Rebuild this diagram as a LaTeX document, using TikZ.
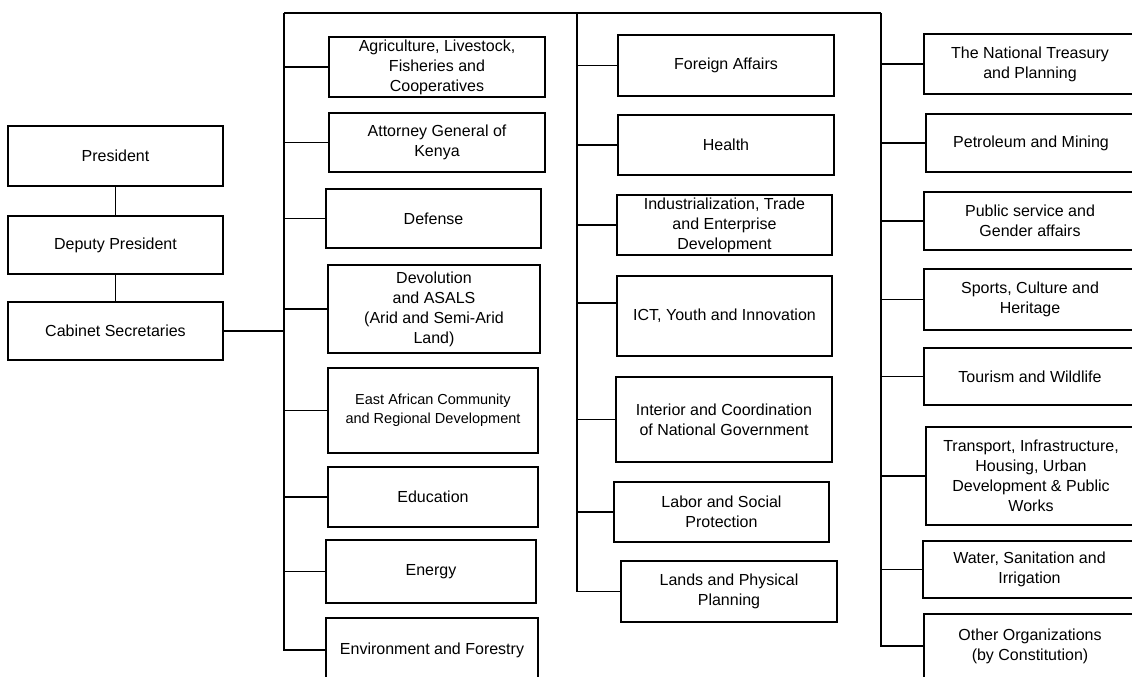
\documentclass[tikz,border=0pt]{standalone}
\usepackage{fontspec}
\setmainfont{Liberation Sans}

\begin{document}
\begin{tikzpicture}[x=1pt,y=-1pt,line width=1.5pt,
        box/.style={draw,align=center,inner sep=2pt,
          font=\fontsize{16}{20}\selectfont},
        small/.style={font=\fontsize{14.5}{19}\selectfont}]
        \clip (0,0) rectangle (1132,677);
        % head of government
        \node[box,minimum width=215,minimum height=60] at (115.5,156) (pres) {President};
        \node[box,minimum width=215,minimum height=58] at (115.5,245) (dep)  {Deputy President};
        \node[box,minimum width=215,minimum height=58] at (115.5,331) (cab)  {Cabinet Secretaries};

        % ministries, first column
        \node[box,minimum width=216,minimum height=60] at (437,67)    (agri) {Agriculture, Livestock,\\Fisheries and\\Cooperatives};
        \node[box,minimum width=216,minimum height=59] at (437,142.5) (atty) {Attorney General of\\Kenya};
        \node[box,minimum width=215,minimum height=59] at (433.5,218.5) (def) {Defense};
        \node[box,minimum width=212,minimum height=88] at (434,309)   (devo) {Devolution\\and ASALS\\(Arid and Semi-Arid\\Land)};
        \node[box,small,minimum width=210,minimum height=85] at (433,410.5) (eac) {East African Community\\and Regional Development};
        \node[box,minimum width=210,minimum height=60] at (433,497)   (edu)  {Education};
        \node[box,minimum width=210,minimum height=63] at (431,571.5) (ener) {Energy};
        \node[box,minimum width=212,minimum height=64] at (432,650)   (env)  {Environment and Forestry};

        % second column
        \node[box,minimum width=216,minimum height=61] at (726,65.5)  (fore) {Foreign Affairs};
        \node[box,minimum width=216,minimum height=60] at (726,145)   (heal) {Health};
        \node[box,minimum width=215,minimum height=60] at (724.5,225) (indu) {Industrialization, Trade\\and Enterprise\\Development};
        \node[box,minimum width=215,minimum height=80] at (724.5,316) (ict)  {ICT, Youth and Innovation};
        \node[box,minimum width=216,minimum height=85] at (724,419.5) (inte) {Interior and Coordination\\of National Government};
        \node[box,minimum width=215,minimum height=60] at (721.5,512) (labo) {Labor and Social\\Protection};
        \node[box,minimum width=216,minimum height=61] at (729,591.5) (land) {Lands and Physical\\Planning};

        % third column
        \node[box,minimum width=212,minimum height=60] at (1030,64)    (trea) {The National Treasury\\and Planning};
        \node[box,minimum width=210,minimum height=58] at (1031,143)   (petr) {Petroleum and Mining};
        \node[box,minimum width=212,minimum height=58] at (1030,221)   (publ) {Public service and\\Gender affairs};
        \node[box,minimum width=212,minimum height=61] at (1030,299.5) (spor) {Sports, Culture and\\Heritage};
        \node[box,minimum width=212,minimum height=57] at (1030,376.5) (tour) {Tourism and Wildlife};
        \node[box,minimum width=210,minimum height=98] at (1031,476)   (tran) {Transport, Infrastructure,\\Housing, Urban\\Development \& Public\\Works};
        \node[box,minimum width=213,minimum height=57] at (1029.5,569.5) (wate) {Water, Sanitation and\\Irrigation};
        \node[box,minimum width=212,minimum height=64] at (1030,646)   (othe) {Other Organizations\\(by Constitution)};

        % bus lines
        \coordinate (b1) at (284,13);
        \coordinate (b2) at (577,13);
        \coordinate (b3) at (881,13);
        \draw (pres) -- (dep) (dep) -- (cab);
        \draw (cab.east) -- (cab.east -| b1);
        \draw (b1) -- (b3);
        \draw (b1) |- (env.west);
        \draw (b2) |- (land.west);
        \draw (b3) |- (othe.west);
        \foreach \n in {agri,atty,def,devo,eac,edu,ener}
          \draw (\n.west) -- (\n.west -| b1);
        \foreach \n in {fore,heal,indu,inte,labo}
          \draw (\n.west) -- (\n.west -| b2);
        \draw ([yshift=13pt]ict.west) -- ([yshift=13pt]ict.west -| b2);
        \foreach \n in {trea,petr,publ,spor,tour,tran,wate}
          \draw (\n.west) -- (\n.west -| b3);
\end{tikzpicture}
\end{document}
